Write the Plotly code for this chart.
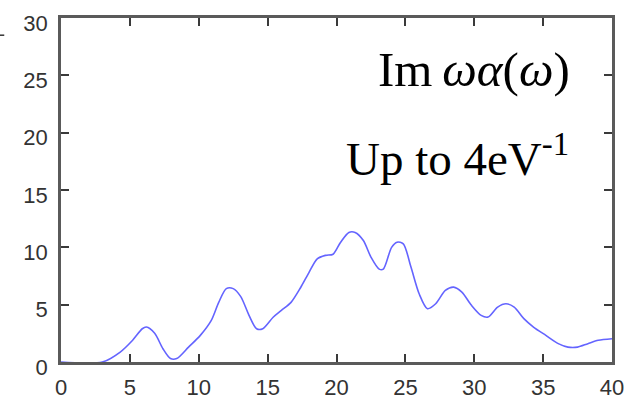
import plotly.graph_objects as go

# Spectrum samples: photon energy (eV) and Im ωα(ω)
energy = [0, 3.0, 4.3, 5.2, 5.9, 6.2, 6.8, 7.4, 7.95, 8.4, 9.26, 10.1, 10.9, 11.45,
          12.0, 12.5, 13.05, 13.65, 14.2, 14.65, 15.4, 16.0, 16.7, 17.4, 18.0, 18.6,
          19.2, 19.75, 20.3, 20.9, 21.35, 21.95, 22.5, 23.1, 23.4, 24.0, 24.4, 24.85,
          25.4, 26.0, 26.6, 27.2, 27.9, 28.5, 29.1, 29.8, 30.5, 31.0, 31.7, 32.3,
          32.9, 33.6, 34.3, 35.2, 36.1, 36.8, 37.5, 38.25, 39.0, 40.0]
im_wa = [0, 0, 0.87, 1.9, 2.9, 3.05, 2.5, 1.16, 0.3, 0.3, 1.3, 2.3, 3.6, 5.2,
         6.4, 6.4, 5.7, 4.07, 2.9, 2.9, 3.9, 4.5, 5.2, 6.5, 7.8, 9.0,
         9.3, 9.4, 10.45, 11.3, 11.3, 10.6, 9.15, 8.1, 8.1, 10.0, 10.45, 10.3,
         8.3, 5.95, 4.65, 5.08, 6.24, 6.53, 6.1, 4.94, 4.07, 3.92, 4.79, 5.08,
         4.79, 3.78, 3.05, 2.32, 1.6, 1.3, 1.3, 1.6, 1.89, 2.03]

x_ticks = [0, 5, 10, 15, 20, 25, 30, 35, 40]
y_ticks = [0, 5, 10, 15, 20, 25, 30]

fig = go.Figure()
fig.add_trace(go.Scatter(
    x=energy, y=im_wa, mode="lines",
    line=dict(color="rgb(100,100,255)", width=1.6, shape="spline", smoothing=0.8),
    hoverinfo="skip", showlegend=False,
))

axis_common = dict(
    showgrid=False, zeroline=False, automargin=False,
    showline=True, linecolor="#5a5a5a", linewidth=2.5, mirror="ticks",
    ticks="inside", ticklen=8, tickwidth=2, tickcolor="#3a3a3a",
    tickfont=dict(family="Liberation Sans, Arial", size=22, color="#333333"),
)

fig.update_xaxes(range=[0, 40], tickvals=x_ticks, ticklabelstandoff=4, **axis_common)
fig.update_yaxes(range=[0, 30], tickvals=y_ticks, ticklabelstandoff=6,
                 ticklabelshift=5, **axis_common)

serif = "Liberation Serif, Times New Roman, serif"
fig.add_annotation(
    xref="paper", yref="paper", x=0.927, y=0.85, xanchor="right", yanchor="middle",
    text="Im\u2009<i>ωα</i>(<i>ω</i>)", showarrow=False,
    font=dict(family=serif, size=49, color="black"),
)
fig.add_annotation(
    xref="paper", yref="paper", x=0.925, y=0.60, xanchor="right", yanchor="middle",
    text="Up to 4eV<sup>-1</sup>", showarrow=False,
    font=dict(family=serif, size=47, color="black"),
)

# small stray stroke at the upper left edge
fig.add_shape(type="line", xref="paper", yref="paper",
              x0=-0.111, x1=-0.103, y0=0.95, y1=0.95,
              line=dict(color="#333333", width=1.5))

fig.update_layout(
    width=628, height=402,
    margin=dict(l=61, r=16, t=18, b=40),
    paper_bgcolor="white", plot_bgcolor="white",
)

fig.write_html("out.html")
